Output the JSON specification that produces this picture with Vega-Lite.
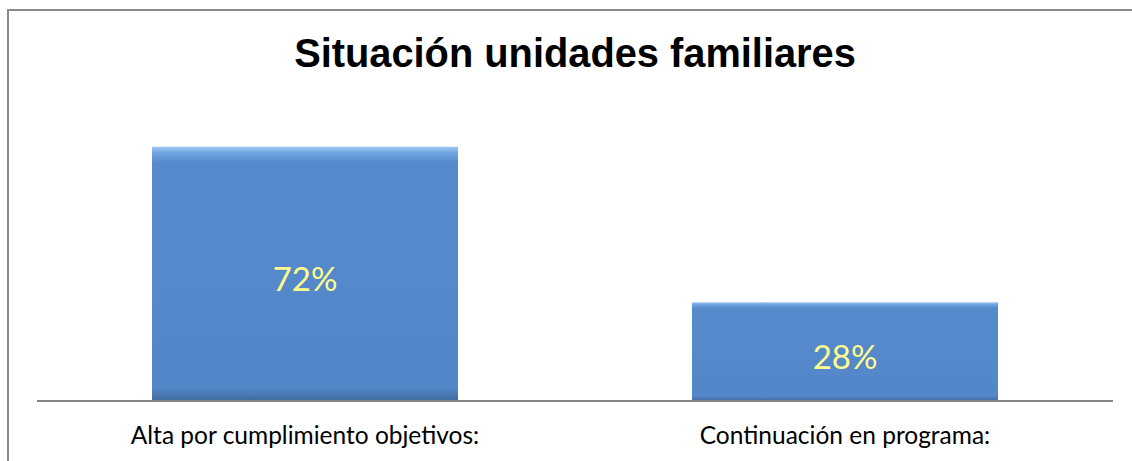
{
  "$schema": "https://vega.github.io/schema/vega-lite/v6.json",
  "width": 1134,
  "height": 470,
  "autosize": {"type": "none"},
  "padding": {"left": 8, "top": 10, "right": 0, "bottom": 0},
  "background": "white",
  "config": {"view": {"stroke": "#8a8a8a", "strokeWidth": 2}},
  "title": {
    "text": "Situación unidades familiares",
    "font": "Liberation Sans",
    "fontSize": 39.8,
    "fontWeight": "bold",
    "color": "#000000",
    "anchor": "middle",
    "baseline": "alphabetic",
    "offset": -97
  },
  "layer": [
    {
      "data": {"values": [
        {"categoria": "Alta por cumplimiento objetivos:", "porcentaje": 72, "etiqueta": "72%"},
        {"categoria": "Continuación en programa:", "porcentaje": 28, "etiqueta": "28%"}
      ]},
      "layer": [
        {
          "mark": {
            "type": "bar",
            "color": {
              "gradient": "linear", "x1": 0, "y1": 0, "x2": 0, "y2": 1,
              "stops": [
                {"offset": 0, "color": "#9cc7f5"},
                {"offset": 0.025, "color": "#6fa3e0"},
                {"offset": 0.06, "color": "#568acc"},
                {"offset": 0.95, "color": "#5387c9"},
                {"offset": 1, "color": "#40699c"}
              ]
            }
          },
          "encoding": {
            "x": {
              "field": "categoria", "type": "nominal", "sort": null,
              "scale": {"paddingInner": 0.4333, "paddingOuter": 0.2667},
              "axis": {
                "orient": "bottom", "offset": -79, "domain": false, "ticks": false,
                "labelFont": "Lato", "labelFontSize": 24.5, "labelColor": "#000000",
                "labelPadding": 23, "labelAngle": 0, "labelLimit": 0, "title": null, "grid": false
              }
            },
            "y": {
              "field": "porcentaje", "type": "quantitative",
              "scale": {"domain": [-22.38, 110.76], "nice": false, "zero": false},
              "axis": null
            }
          }
        },
        {
          "transform": [{"calculate": "datum.porcentaje / 2", "as": "centro"}],
          "mark": {"type": "text", "font": "Lato", "fontSize": 33, "color": "#ffff8c", "baseline": "middle", "dy": 7},
          "encoding": {
            "x": {"field": "categoria", "type": "nominal", "sort": null},
            "y": {"field": "centro", "type": "quantitative"},
            "text": {"field": "etiqueta"}
          }
        }
      ]
    },
    {
      "data": {"values": [{"inicio": 0, "fin": 1}]},
      "mark": {"type": "rule", "color": "#878787", "strokeWidth": 2},
      "encoding": {
        "x": {"field": "inicio", "type": "quantitative", "scale": {"domain": [-0.02695, 1.02695], "nice": false, "zero": false}, "axis": null},
        "x2": {"field": "fin"},
        "y": {"datum": 0}
      }
    }
  ],
  "resolve": {"scale": {"x": "independent"}}
}
